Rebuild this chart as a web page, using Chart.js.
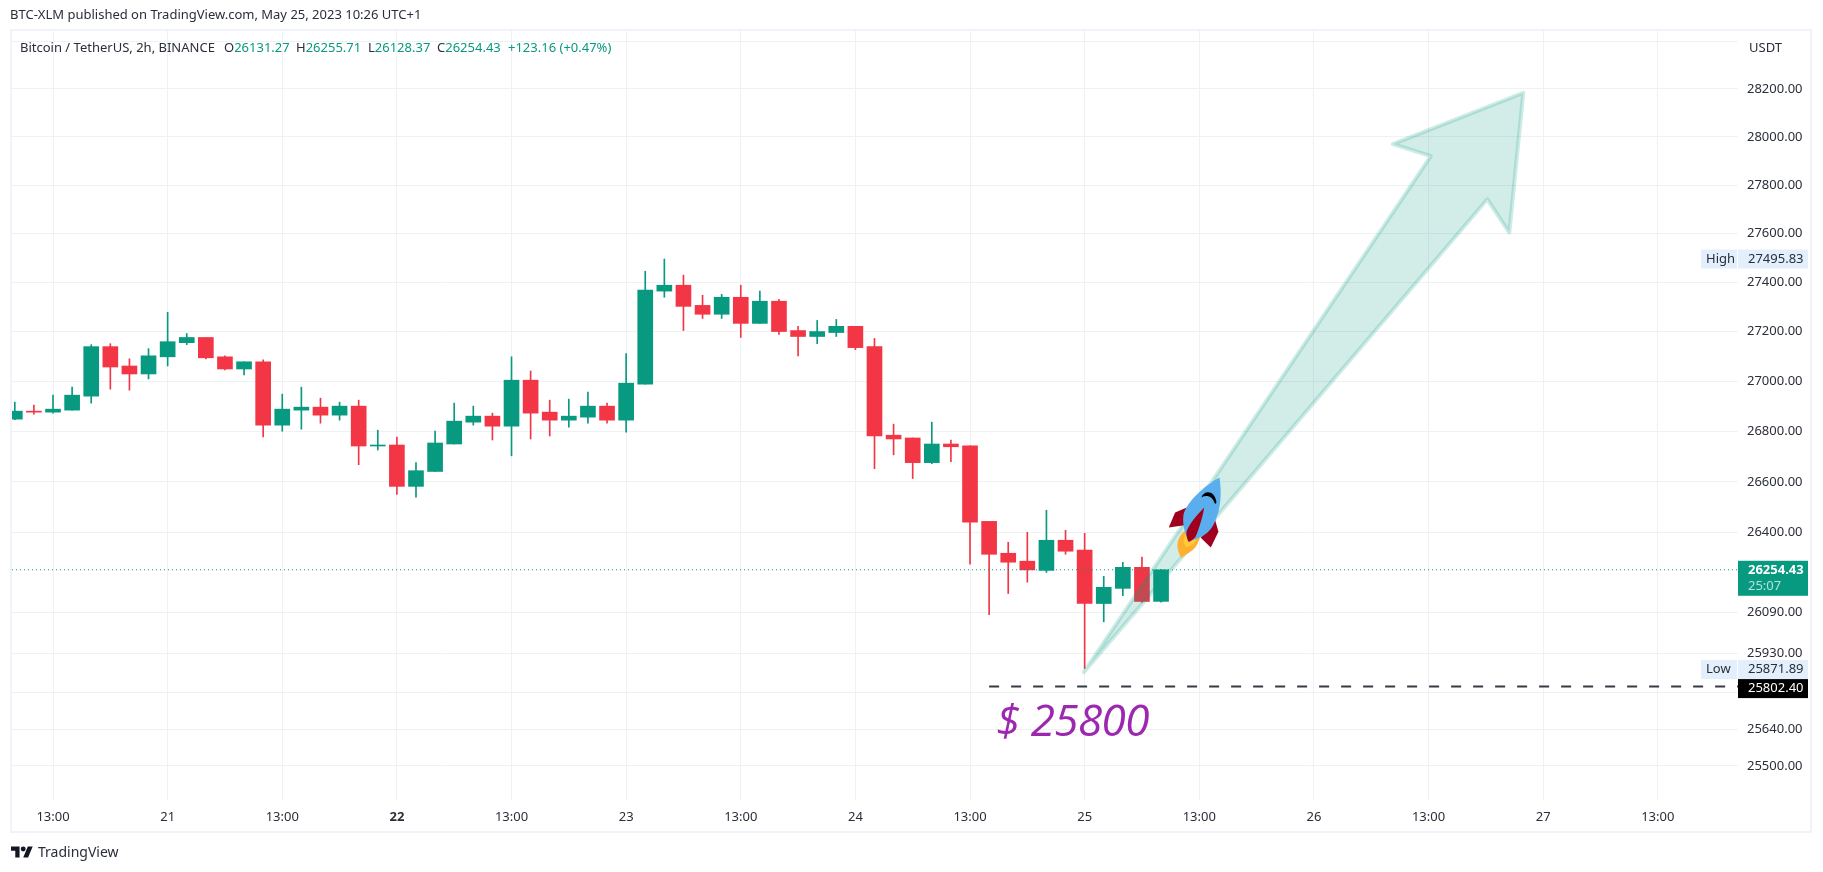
<!DOCTYPE html>
<html>
<head>
<meta charset="utf-8">
<title>BTC-XLM</title>
<script src="https://cdn.jsdelivr.net/npm/chart.js@4"></script>
<style>
    html, body { margin: 0; padding: 0; background: #fff; width: 1823px; height: 872px; overflow: hidden; }
    body { position: relative; font-family: "Noto Sans", sans-serif; color: #2a2e39; }
    #chart { position: absolute; left: 0; top: 0; }
    #frame { position: absolute; left: 10px; top: 29px; width: 1798px; height: 800px; border: 2px solid #f0f3fa; }
    .txt { position: absolute; white-space: nowrap; line-height: 16px; font-size: 13px; }
    .up { color: #089981; }
</style>
</head>
<body>
<div id="frame"></div>
<canvas id="chart" width="1823" height="872"></canvas>
<div class="txt" style="left:10px;top:6px">BTC-XLM published on TradingView.com, May 25, 2023 10:26 UTC+1</div>
<div class="txt" style="left:20px;top:39px">Bitcoin / TetherUS, 2h, BINANCE</div>
<div class="txt" style="left:224px;top:39px">O<span class="up">26131.27</span></div>
<div class="txt" style="left:296px;top:39px">H<span class="up">26255.71</span></div>
<div class="txt" style="left:368px;top:39px">L<span class="up">26128.37</span></div>
<div class="txt" style="left:437px;top:39px">C<span class="up">26254.43</span></div>
<div class="txt up" style="left:508px;top:39px">+123.16 (+0.47%)</div>
<div class="txt" style="left:1749px;top:39px">USDT</div>
<svg style="position:absolute;left:11px;top:846px" width="22" height="12" viewBox="0 4 36 18">
    <path fill="#131722" d="M14 22H7V11H0V4h14v18zM28 22h-8l7.5-18h8L28 22z"/><circle fill="#131722" cx="20" cy="8" r="4"/>
</svg>
<div class="txt" style="left:38px;top:844px;font-size:14px">TradingView</div>

<script>
// 2h candles, BTCUSDT
const opens  = [26849,26881,26877,26885,26941,27140,27062,27030,27099,27156,27177,27099,27050,27079,26825,26885,26897,26865,26901,26742,26746,26582,26641,26750,26837,26861,26821,27005,26877,26845,26857,26901,26845,26989,27365,27389,27307,27271,27340,27234,27324,27205,27181,27197,27222,27140,26785,26774,26676,26750,26743,26444,26319,26288,26252,26370,26331,26123,26182,26264,26131.27];
const highs  = [26917,26905,26945,26977,27148,27152,27091,27132,27279,27193,27177,27103,27079,27087,26949,26977,26933,26917,26925,26805,26778,26676,26801,26913,26901,26873,27099,27042,26925,26929,26957,26913,27112,27446,27495.83,27430,27348,27352,27389,27365,27332,27222,27246,27250,27222,27173,26829,26774,26837,26766,26743,26444,26362,26401,26488,26409,26397,26229,26284,26304,26255.71];
const lows   = [26847,26869,26873,26885,26913,26969,26965,27010,27062,27148,27091,27046,27026,26778,26801,26809,26833,26845,26668,26726,26550,26539,26641,26750,26825,26766,26703,26770,26782,26817,26833,26833,26797,26989,27340,27205,27254,27254,27177,27234,27189,27103,27152,27181,27128,26652,26707,26613,26672,26680,26276,26080,26162,26206,26244,26315,25871.89,26052,26154,26127,26128.37];
const closes = [26881,26877,26889,26945,27140,27058,27030,27103,27160,27177,27095,27050,27079,26825,26889,26897,26865,26901,26742,26746,26582,26644,26754,26841,26861,26821,27005,26873,26845,26861,26901,26845,26993,27369,27389,27303,27271,27340,27234,27324,27201,27181,27201,27222,27136,26782,26770,26676,26750,26739,26441,26315,26284,26254,26370,26327,26123,26186,26264,26131,26254.43];

const timeTickIdx    = [2,8,14,20,26,32,38,44,50,56,62,68,74,80,86];
const timeTickLabels = ['13:00','21','13:00','22','13:00','23','13:00','24','13:00','25','13:00','26','13:00','27','13:00'];
const boldTimeLabel  = '22';

const priceTicks = [28400,28200,28000,27800,27600,27400,27200,27000,26800,26600,26400,26090,25930,25780,25640,25500];
const hiddenPriceLabels = [28400,25780];

const lastPrice  = 26254.43;
const lastCount  = '25:07';
const highPrice  = 27495.83;
const lowPrice   = 25871.89;
const levelPrice = 25802.40;
const levelIdx   = [51,90.2];
const levelText  = '$ 25800';
const levelTextIdx = 51.37;
const levelTextPrice = 25615;

const arrowIdx   = [55.96,74.12,72.13,78.96,78.23,77.08,55.96];
const arrowPrice = [25858,27920,27970,28184,27604,27741,25858];

const rocketIdx   = 61.87;
const rocketPrice = 26482;

const xMin = -0.147, xMax = 90.2;
const yMin = 25371, yMax = 28444;

const GREEN = '#089981', RED = '#f23645', TEXT = '#2a2e39';
const FONT = '"Noto Sans", sans-serif';

const candleIdx = opens.map((v, i) => i);
const colors = opens.map((o, i) => closes[i] >= o ? GREEN : RED);

// arrow fill goes under its own outline, the rest sits on top of the series
const overlayPlugin = {
    id: 'overlay',
    beforeDatasetDraw(chart, args) {
        if (chart.data.datasets[args.index].label !== 'arrow') return;
        const pts = chart.getDatasetMeta(args.index).data;
        const ctx = chart.ctx;
        ctx.save();
        ctx.beginPath();
        pts.forEach((p, i) => i ? ctx.lineTo(p.x, p.y) : ctx.moveTo(p.x, p.y));
        ctx.closePath();
        ctx.fillStyle = 'rgba(8,153,129,0.18)';
        ctx.fill();
        ctx.restore();
    },
    afterDatasetsDraw(chart) {
        const ctx = chart.ctx;
        const x = chart.scales.x, y = chart.scales.y;
        drawRocket(ctx, x.getPixelForValue(rocketIdx), y.getPixelForValue(rocketPrice));

        ctx.save();
        ctx.fillStyle = '#9c27b0';
        ctx.font = 'italic 44px "Open Sans", sans-serif';
        ctx.letterSpacing = '-0.6px';
        ctx.textBaseline = 'alphabetic';
        ctx.fillText(levelText, x.getPixelForValue(levelTextIdx), y.getPixelForValue(levelTextPrice));
        ctx.restore();

        const left = chart.chartArea.right;
        const py = v => y.getPixelForValue(v);
        badge(ctx, left, py(highPrice), 19, '#e3effd', TEXT, highPrice.toFixed(2), 'High');
        badge(ctx, left, py(lowPrice) + 1, 19, '#e3effd', TEXT, lowPrice.toFixed(2), 'Low');
        badge(ctx, left, py(levelPrice) + 2, 19, '#000', '#fff', levelPrice.toFixed(2));

        const top = py(lastPrice) - 9;
        ctx.save();
        ctx.fillStyle = GREEN;
        ctx.fillRect(left, top, 70, 35);
        ctx.font = 'bold 13px ' + FONT;
        ctx.fillStyle = '#fff';
        ctx.textBaseline = 'middle';
        ctx.fillText(lastPrice.toFixed(2), left + 10, top + 10);
        ctx.font = '13px ' + FONT;
        ctx.fillStyle = '#b5e0d9';
        ctx.fillText(lastCount, left + 10, top + 26);
        ctx.restore();
    }
};

function badge(ctx, left, cy, h, bg, fg, value, tag) {
    ctx.save();
    ctx.fillStyle = bg;
    ctx.fillRect(left, cy - h / 2, 70, h);
    ctx.font = '13px ' + FONT;
    ctx.textBaseline = 'middle';
    if (tag) {
        ctx.fillRect(left - 37, cy - h / 2, 36, h);
        ctx.fillStyle = fg;
        ctx.fillText(tag, left - 32, cy);
    }
    ctx.fillStyle = fg;
    ctx.fillText(value, left + 10, cy);
    ctx.restore();
}

function drawRocket(ctx, cx, cy) {
    const shape = (color, d) => { ctx.fillStyle = color; ctx.fill(new Path2D(d)); };
    ctx.save();
    ctx.translate(cx, cy);
    ctx.scale(1 / 3, 1 / 3);
    ctx.translate(-230, -125);
    shape('#a0001e', 'M200,112 L165,127 L146,172 L198,165 Z');
    shape('#a0001e', 'M285,150 L295,185 L272,232 L242,203 Z');
    shape('#ffb02e', 'M195,182 C172,200 162,230 185,264 C205,245 235,240 238,198 Z');
    shape('#ffc83d', 'M197,190 C188,205 188,220 200,232 C212,225 226,222 228,205 Z');
    shape('#5aaeee', 'M298,22 C250,48 198,98 190,135 C186,165 196,195 206,212 C238,208 270,188 282,160 C302,120 306,70 298,22 Z');
    shape('#a0001e', 'M252,112 C228,138 208,160 199,185 C198,198 202,210 206,216 C218,210 226,204 230,192 C240,165 249,135 252,112 Z');
    shape('#000', 'M244,82 C250,60 284,58 289,96 C288,102 285,102 283,98 C278,80 260,72 244,82 Z');
    ctx.restore();
}

function timeLabelFont(c) {
    const bold = c.tick && timeTickLabels[timeTickIdx.indexOf(c.tick.value)] === boldTimeLabel;
    return { family: FONT, size: 13, weight: bold ? 'bold' : 'normal' };
}

new Chart(document.getElementById('chart'), {
    data: {
        datasets: [
            {
                type: 'bar', label: 'wicks', order: 3, grouped: false, barThickness: 1,
                backgroundColor: colors, borderWidth: 0,
                data: candleIdx.map(i => ({ x: i, y: [lows[i], highs[i]] })),
            },
            {
                type: 'bar', label: 'bodies', order: 2, grouped: false, barThickness: 15, minBarLength: 1,
                backgroundColor: colors, borderWidth: 0,
                data: candleIdx.map(i => ({ x: i, y: [opens[i], closes[i]] })),
            },
            {
                type: 'line', label: 'last', order: 1, borderColor: GREEN, borderWidth: 1, borderDash: [1, 3],
                pointRadius: 0, data: [{ x: xMin, y: lastPrice }, { x: xMax, y: lastPrice }],
            },
            {
                type: 'line', label: 'level', order: 1, borderColor: '#363a45', borderWidth: 2, borderDash: [10, 12],
                pointRadius: 0, data: levelIdx.map(v => ({ x: v, y: levelPrice })),
            },
            {
                type: 'line', label: 'arrow', order: 0, borderColor: 'rgba(8,153,129,0.2)', borderWidth: 4,
                borderJoinStyle: 'round', borderCapStyle: 'round', pointRadius: 0,
                data: arrowIdx.map((v, i) => ({ x: v, y: arrowPrice[i] })),
            },
        ],
    },
    options: {
        responsive: false,
        animation: false,
        events: [],
        layout: { padding: { left: 12, top: 31, right: 0, bottom: 0 } },
        plugins: { legend: { display: false }, tooltip: { enabled: false } },
        scales: {
            x: {
                type: 'linear', min: xMin, max: xMax, offset: false, bounds: 'data',
                afterBuildTicks: s => { s.ticks = timeTickIdx.map(v => ({ value: v })); },
                afterFit: s => { s.height = 72; },
                border: { display: false },
                grid: { color: '#f0f1f4', drawTicks: false, offset: false },
                ticks: {
                    autoSkip: false, maxRotation: 0, padding: 9, color: TEXT,
                    font: timeLabelFont,
                    callback: v => timeTickLabels[timeTickIdx.indexOf(v)],
                },
            },
            y: {
                type: 'logarithmic', position: 'right', min: yMin, max: yMax, bounds: 'data',
                afterBuildTicks: s => { s.ticks = priceTicks.map(v => ({ value: v })); },
                afterFit: s => { s.width = 85; },
                border: { display: false },
                grid: { color: '#f0f1f4', drawTicks: false },
                ticks: {
                    autoSkip: false, padding: 9, color: TEXT, font: { family: FONT, size: 13 },
                    callback: v => hiddenPriceLabels.includes(v) ? '' : v.toFixed(2),
                },
            },
        },
    },
    plugins: [overlayPlugin],
});
</script>
</body>
</html>
